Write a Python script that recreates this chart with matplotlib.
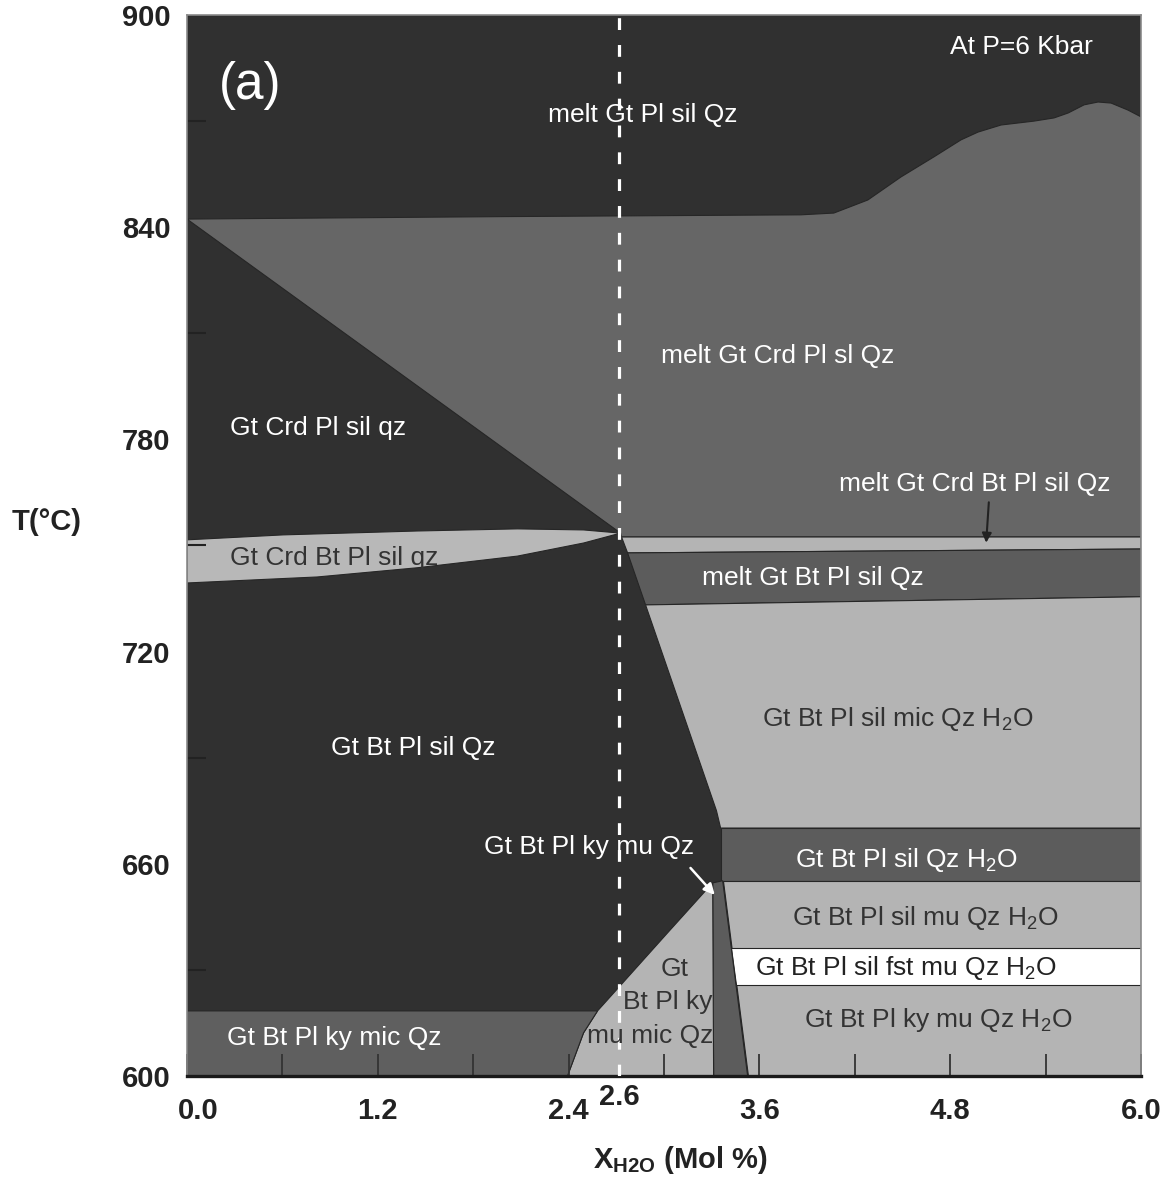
"""
Isobaric T-X(H2O) pseudosection at P = 6 kbar, panel (a).
Phase fields are drawn as filled polygons read off the published figure.
"""
import matplotlib
matplotlib.use("Agg")
import matplotlib.pyplot as plt
from matplotlib.ticker import FixedLocator
from matplotlib.transforms import ScaledTranslation

plt.rcParams["font.family"] = ["Liberation Sans", "DejaVu Sans"]
plt.rcParams["mathtext.fontset"] = "custom"
plt.rcParams["mathtext.rm"] = "Liberation Sans"
plt.rcParams["mathtext.it"] = "Liberation Sans:italic"
plt.rcParams["mathtext.bf"] = "Liberation Sans:bold"

# ── Greys used for the phase fields ───────────────────────────────────────────
DARK   = "#303030"
MID    = "#666666"
MID_DK = "#5c5c5c"
LIGHT  = "#b4b4b4"
WHITE  = "#ffffff"
EDGE   = "#262626"

# ── Axis range ────────────────────────────────────────────────────────────────
X_RANGE = [0.0, 6.0]
T_RANGE = [600.0, 900.0]
X_SAMPLE = 2.72          # dashed line; labelled "2.6" on the original figure

# ── Phase field boundaries (X_H2O mol %, T °C) ────────────────────────────────
# whole field (melt Gt Pl sil Qz / Gt Crd Pl sil qz / Gt Bt Pl sil Qz)
FIELD_X = [0.0, 6.0, 6.0, 0.0]
FIELD_T = [600.0, 600.0, 900.0, 900.0]

# melt Gt Crd Pl sl Qz (top edge = melt-in curve, left edge = diagonal)
CRD_MELT_X = [0.0, 2.0, 3.860, 4.068, 4.282, 4.490, 4.698, 4.868, 4.975, 5.120,
              5.327, 5.453, 5.542, 5.642, 5.730, 5.812, 5.919, 6.0,
              6.0, 2.733, 2.727]
CRD_MELT_T = [842.3, 843.0, 843.5, 844.0, 847.7, 854.2, 859.9, 864.7, 866.9, 868.9,
              870.0, 870.9, 872.3, 874.6, 875.4, 875.1, 873.1, 871.2,
              752.4, 752.4, 753.5]

# melt Gt Crd Bt Pl sil Qz (thin band)
CRD_BT_MELT_X = [2.733, 6.0, 6.0, 2.771]
CRD_BT_MELT_T = [752.4, 752.4, 749.0, 747.9]

# melt Gt Bt Pl sil Qz
BT_MELT_X = [2.771, 6.0, 6.0, 2.884]
BT_MELT_T = [747.9, 749.0, 735.5, 733.2]

# Gt Bt Pl sil mic Qz H2O
SIL_MIC_X = [2.884, 6.0, 6.0, 3.356, 3.330]
SIL_MIC_T = [733.2, 735.5, 670.1, 670.1, 675.0]

# Gt Bt Pl sil Qz H2O
SIL_H2O_X = [3.356, 6.0, 6.0, 3.356]
SIL_H2O_T = [670.1, 670.1, 655.2, 655.2]

# Gt Bt Pl sil mu Qz H2O + Gt Bt Pl ky mu Qz H2O (lower right block)
MU_H2O_X = [3.369, 6.0, 6.0, 3.526]
MU_H2O_T = [655.2, 655.2, 600.0, 600.0]

# Gt Bt Pl sil fst mu Qz H2O
FST_X = [3.423, 6.0, 6.0, 3.453]
FST_T = [636.2, 636.2, 625.8, 625.8]

# sil/ky divider (thin wedge)
SLIVER_X = [3.306, 3.369, 3.526, 3.312]
SLIVER_T = [654.6, 655.2, 600.0, 600.0]

# Gt Bt Pl ky mu mic Qz
KY_MU_MIC_X = [3.306, 3.023, 2.746, 2.582, 2.494, 2.393, 3.312]
KY_MU_MIC_T = [654.6, 640.5, 626.6, 618.4, 612.2, 600.0, 600.0]

# Gt Bt Pl ky mic Qz
KY_MIC_X = [0.0, 2.582, 2.494, 2.393, 0.0]
KY_MIC_T = [618.4, 618.4, 612.2, 600.0, 600.0]

# Gt Crd Bt Pl sil qz (lens)
LENS_X = [0.0, 0.605, 1.448, 2.078, 2.494, 2.727, 2.494, 2.078, 1.448, 0.819, 0.0]
LENS_T = [751.6, 753.0, 754.1, 754.7, 754.4, 753.5, 750.7, 747.0, 743.7, 741.1, 739.4]

FIELDS = [
    (FIELD_X, FIELD_T, DARK),
    (CRD_MELT_X, CRD_MELT_T, MID),
    (CRD_BT_MELT_X, CRD_BT_MELT_T, LIGHT),
    (BT_MELT_X, BT_MELT_T, MID_DK),
    (SIL_MIC_X, SIL_MIC_T, LIGHT),
    (SIL_H2O_X, SIL_H2O_T, MID_DK),
    (MU_H2O_X, MU_H2O_T, LIGHT),
    (FST_X, FST_T, WHITE),
    (SLIVER_X, SLIVER_T, MID_DK),
    (KY_MU_MIC_X, KY_MU_MIC_T, LIGHT),
    (KY_MIC_X, KY_MIC_T, "#5f5f5f"),
    (LENS_X, LENS_T, "#b8b8b8"),
]

# ── Ticks ─────────────────────────────────────────────────────────────────────
X_TICKS = [0.0, 1.2, 2.4, 3.6, 4.8, 6.0]
X_TICKLABELS = ["0.0", "1.2", "2.4", "3.6", "4.8", "6.0"]
X_MINOR = [0.6, 1.8, 3.0, 4.2, 5.4]
T_TICKS = [600, 660, 720, 780, 840, 900]
T_MINOR = [630, 690, 750, 810, 870]

# ── Field labels: text, x, T, colour ─────────────────────────────────────────
H2O = r"H$_2$O"
LABELS = [
    ("melt Gt Pl sil Qz",            2.865, 871.7, "white"),
    ("melt Gt Crd Pl sl Qz",         3.715, 803.6, "white"),
    ("Gt Crd Pl sil qz",             0.825, 783.2, "white"),
    ("melt Gt Crd Bt Pl sil Qz",     4.956, 767.4, "white"),
    ("Gt Crd Bt Pl sil qz",          0.926, 746.5, "#333333"),
    ("melt Gt Bt Pl sil Qz",         3.936, 740.8, "white"),
    ("Gt Bt Pl sil mic Qz " + H2O,   4.471, 700.9, "#333333"),
    ("Gt Bt Pl sil Qz",              1.423, 692.8, "white"),
    ("Gt Bt Pl ky mu Qz",            2.531, 664.8, "white"),
    ("Gt Bt Pl sil Qz " + H2O,       4.528, 661.1, "white"),
    ("Gt Bt Pl sil mu Qz " + H2O,    4.647, 644.7, "#333333"),
    ("Gt Bt Pl sil fst mu Qz " + H2O, 4.521, 630.6, "#222222"),
    ("Gt Bt Pl ky mu Qz " + H2O,     4.723, 615.9, "#333333"),
    ("Gt",                           3.067, 630.3, "#333333"),
    ("Bt Pl ky",                     3.023, 621.0, "#333333"),
    ("mu mic Qz",                    2.916, 611.3, "#333333"),
    ("Gt Bt Pl ky mic Qz",           0.926, 610.8, "white"),
]

fig = plt.figure(figsize=(11.68, 11.82), dpi=100)
ax = fig.add_axes([0.1601, 0.0897, 0.8168, 0.8976])

for fx, ft, col in FIELDS:
    ax.fill(fx, ft, facecolor=col, edgecolor=EDGE, linewidth=0.8, zorder=1)

# sample composition
ax.plot([X_SAMPLE, X_SAMPLE], T_RANGE, color="white", lw=2.3,
        dashes=(3.7, 4.7), zorder=3, solid_capstyle="butt")

for txt, x, t, col in LABELS:
    ax.text(x, t, txt, color=col, fontsize=19, ha="center", va="center", zorder=4)

ax.text(0.397, 880.2, "(a)", color="white", fontsize=37, ha="center", va="center", zorder=4)
ax.text(5.246, 891.0, "At P=6 Kbar", color="white", fontsize=19, ha="center", va="center", zorder=4)

# arrows to the narrow fields
ax.annotate("", xy=(5.025, 750.0), xytext=(5.044, 763.0),
            arrowprops=dict(arrowstyle="-|>", color="#222222", lw=1.5, mutation_scale=14),
            zorder=5)
ax.annotate("", xy=(3.331, 650.6), xytext=(3.155, 659.4),
            arrowprops=dict(arrowstyle="-|>", color="white", lw=1.8, mutation_scale=16),
            zorder=5)

ax.set_xlim(*X_RANGE)
ax.set_ylim(*T_RANGE)

ax.xaxis.set_major_locator(FixedLocator(X_TICKS))
ax.set_xticklabels(X_TICKLABELS)
ax.xaxis.set_minor_locator(FixedLocator(X_MINOR))
ax.yaxis.set_major_locator(FixedLocator(T_TICKS))
ax.yaxis.set_minor_locator(FixedLocator(T_MINOR))

ax.tick_params(axis="x", which="both", direction="in", length=16, width=1.3,
               color="#333333", pad=15, labelsize=21)
ax.tick_params(axis="y", which="major", length=0, pad=12, labelsize=21)
ax.tick_params(axis="y", which="minor", direction="in", length=14, width=1.5,
               color="#222222")
for lab in ax.get_xticklabels() + ax.get_yticklabels():
    lab.set_fontweight("bold")
    lab.set_color("#222222")
# the "0.0" label sits a little right of the corner in the original
first = ax.get_xticklabels()[0]
first.set_transform(first.get_transform() + ScaledTranslation(0.11, 0, fig.dpi_scale_trans))

ax.text(X_SAMPLE, -0.02, "2.6", transform=ax.get_xaxis_transform(),
        fontsize=21, fontweight="bold", color="#222222", ha="center", va="center")

ax.set_ylabel("T(°C)", fontsize=21, fontweight="bold", rotation=0, color="#222222",
              va="center", ha="center")
ax.yaxis.set_label_coords(-0.147, 0.522)
ax.set_xlabel(r"X$_{\mathbf{H2O}}$ (Mol %)", fontsize=21, fontweight="bold",
              color="#222222", va="center", ha="center")
ax.xaxis.set_label_coords(0.517, -0.079)

for side in ["top", "right", "left"]:
    ax.spines[side].set_color("#8a8a8a")
    ax.spines[side].set_linewidth(1.2)
ax.spines["bottom"].set_color("#1a1a1a")
ax.spines["bottom"].set_linewidth(2.4)

fig.savefig("out.png", dpi=100)
plt.close(fig)
